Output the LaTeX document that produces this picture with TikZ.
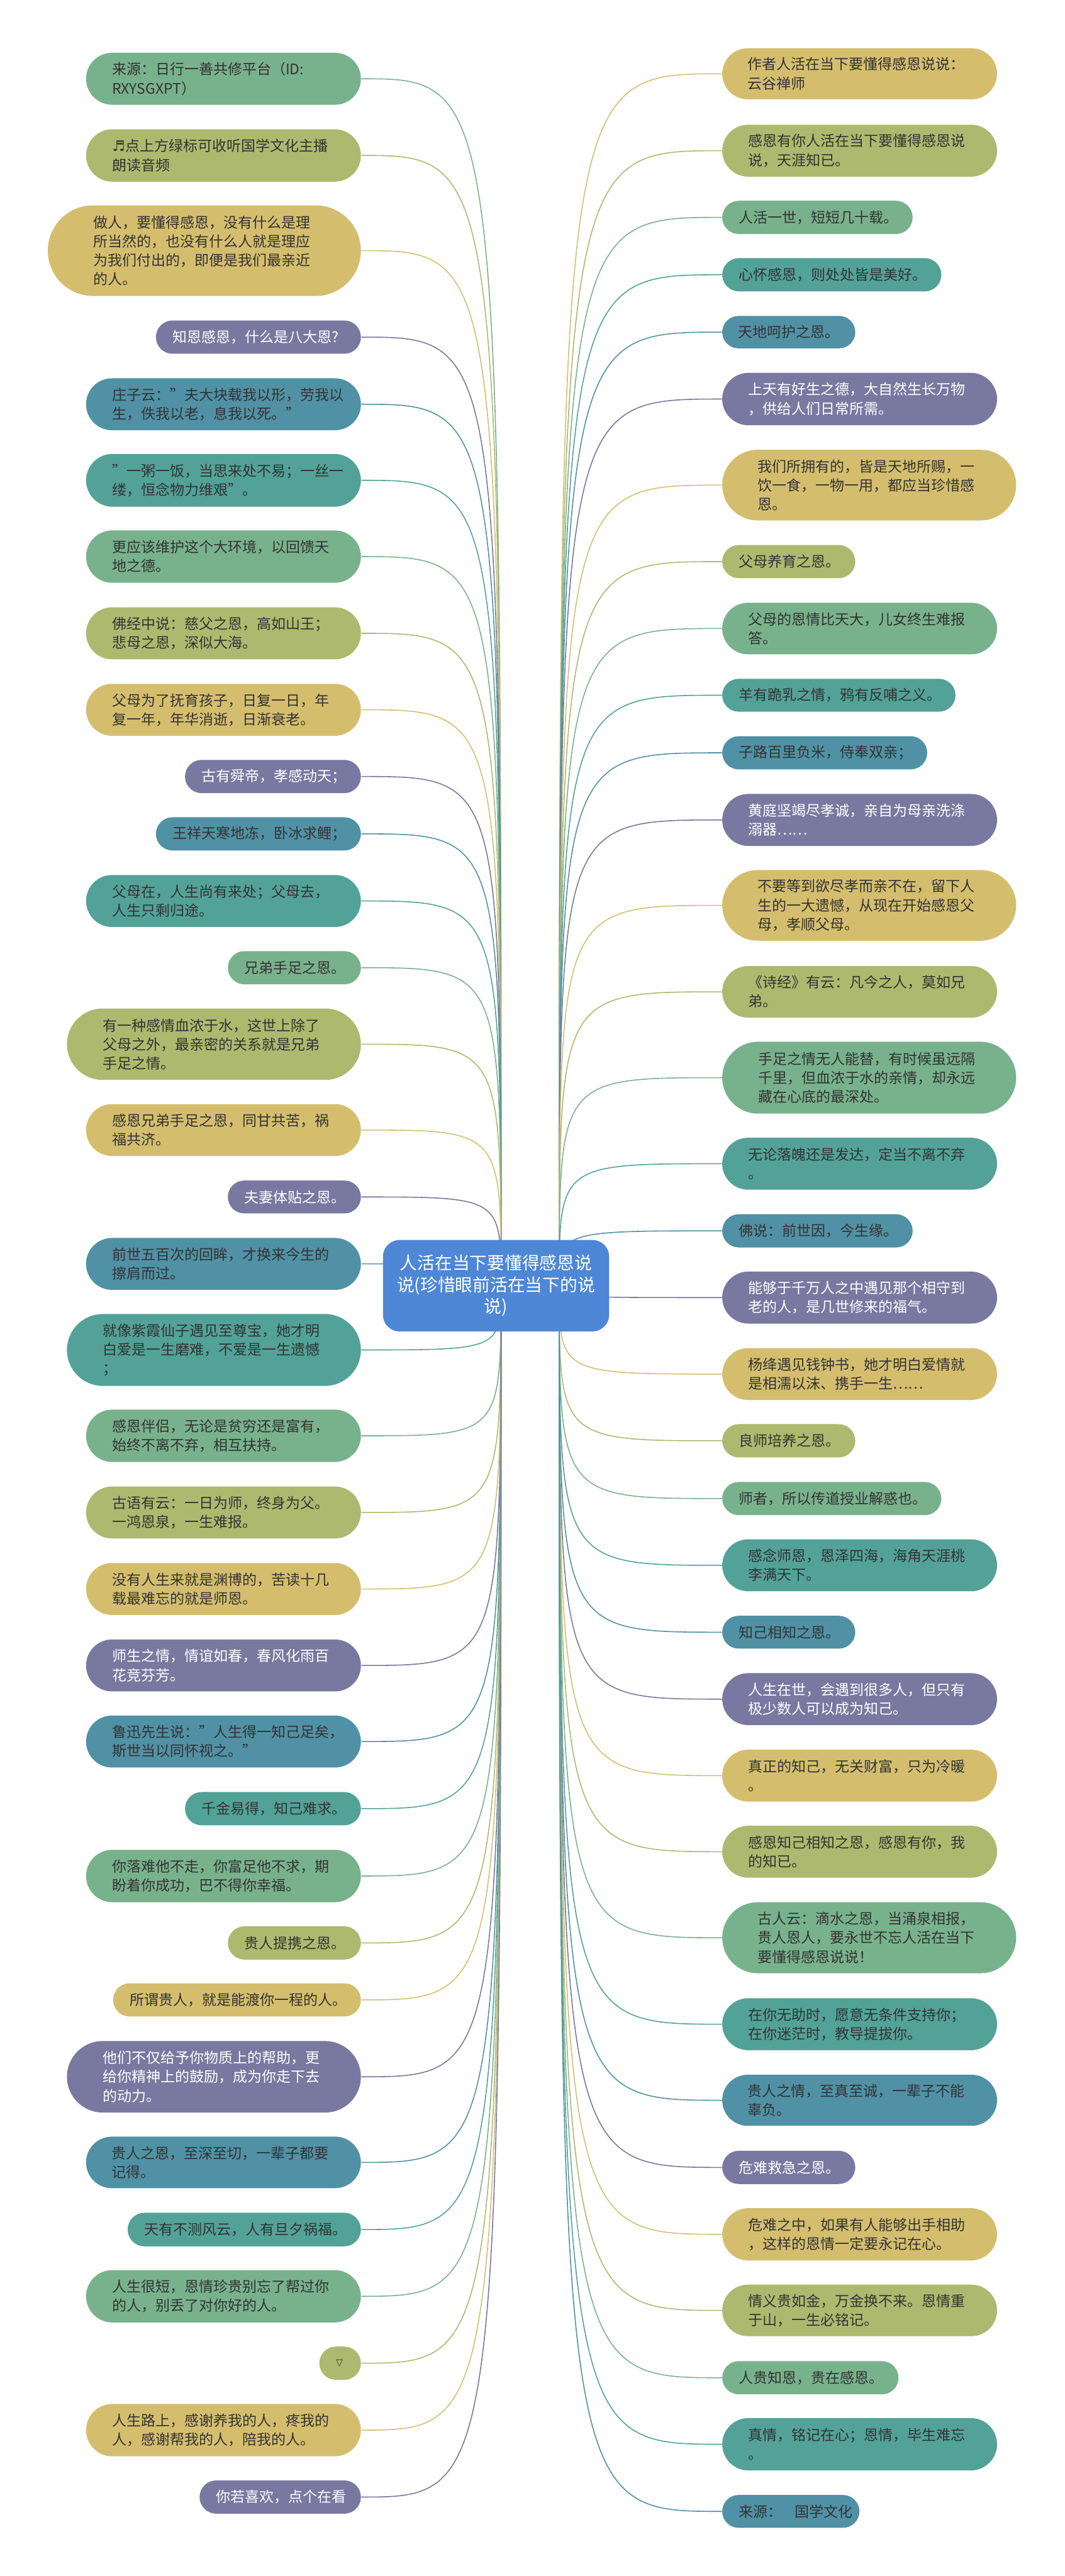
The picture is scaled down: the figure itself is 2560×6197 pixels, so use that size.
\documentclass[tikz,border=0pt]{standalone}
\usepackage{fontspec}
\setmainfont{Noto Sans CJK SC}
\newfontfamily\symfont{DejaVu Sans}
\usetikzlibrary{backgrounds}
\definecolor{cgreen}{HTML}{78B28C}
\definecolor{colive}{HTML}{ADB96E}
\definecolor{cyellow}{HTML}{D4BE6E}
\definecolor{cpurple}{HTML}{7878A0}
\definecolor{cblue}{HTML}{5091A5}
\definecolor{cteal}{HTML}{52A298}
\definecolor{croot}{HTML}{4D87D6}
\definecolor{tdark}{HTML}{333333}
\tikzset{
  leafbox/.style={inner ysep=0pt, align=left, font=\fontsize{8.7pt}{11.4pt}\selectfont},
  conn/.style={line width=0.6pt}
}
\newcommand\lf[8]{%
  \pgfmathsetmacro\lfH{(#7-#6)*0.25}%
  \pgfmathsetmacro\lfR{\lfH/2}%
  \pgfmathsetmacro\lfW{(#5-#4)*0.25-\lfH}%
  \node[leafbox, fill=#2, text=#3, minimum height=\lfH pt, inner xsep=\lfR pt, text width=\lfW pt, rounded corners=\lfR pt] (#1) at ({(#4+#5)/2},{(#6+#7)/2}) {#8};}
\begin{document}
\begin{tikzpicture}[x=0.25pt,y=-0.25pt]
\useasboundingbox (0,0) rectangle (2560,6197);
\node[fill=croot, text=white, rounded corners=10pt, minimum width=136pt, minimum height=55pt, inner sep=0pt, align=center, font=\fontsize{10.5pt}{13pt}\selectfont] (root) at (1193,3093) {人活在当下要懂得感恩说\\说(珍惜眼前活在当下的说\\说)};
\coordinate (sl) at (1205,3093);
\coordinate (sr) at (1345,3093);
% left
\lf{L1}{cgreen}{tdark}{207}{868}{127}{252}{来源：日行一善共修平台（ID:\\RXYSGXPT）}
\lf{L2}{colive}{tdark}{207}{868}{311}{437}{{\symfont ♬}点上方绿标可收听国学文化主播\\朗读音频}
\lf{L3}{cyellow}{tdark}{115}{868}{494}{712}{做人，要懂得感恩，没有什么是理\\所当然的，也没有什么人就是理应\\为我们付出的，即便是我们最亲近\\的人。}
\lf{L4}{cpurple}{white}{375}{868}{771}{851}{知恩感恩，什么是八大恩?}
\lf{L5}{cblue}{tdark}{207}{868}{910}{1035}{庄子云："夫大块载我以形，劳我以\\生，佚我以老，息我以死。"}
\lf{L6}{cteal}{tdark}{207}{868}{1092}{1219}{"一粥一饭，当思来处不易；一丝一\\缕，恒念物力维艰"。}
\lf{L7}{cgreen}{tdark}{207}{868}{1276}{1402}{更应该维护这个大环境，以回馈天\\地之德。}
\lf{L8}{colive}{tdark}{207}{868}{1461}{1586}{佛经中说：慈父之恩，高如山王；\\悲母之恩，深似大海。}
\lf{L9}{cyellow}{tdark}{207}{868}{1645}{1770}{父母为了抚育孩子，日复一日，年\\复一年，年华消逝，日渐衰老。}
\lf{L10}{cpurple}{white}{445}{868}{1828}{1908}{古有舜帝，孝感动天；}
\lf{L11}{cblue}{tdark}{375}{868}{1966}{2046}{王祥天寒地冻，卧冰求鲤；}
\lf{L12}{cteal}{tdark}{207}{868}{2105}{2230}{父母在，人生尚有来处；父母去，\\人生只剩归途。}
\lf{L13}{cgreen}{tdark}{548}{868}{2288}{2368}{兄弟手足之恩。}
\lf{L14}{colive}{tdark}{161}{868}{2426}{2598}{有一种感情血浓于水，这世上除了\\父母之外，最亲密的关系就是兄弟\\手足之情。}
\lf{L15}{cyellow}{tdark}{207}{868}{2656}{2781}{感恩兄弟手足之恩，同甘共苦，祸\\福共济。}
\lf{L16}{cpurple}{white}{548}{868}{2840}{2919}{夫妻体贴之恩。}
\lf{L17}{cblue}{tdark}{207}{868}{2978}{3103}{前世五百次的回眸，才换来今生的\\擦肩而过。}
\lf{L18}{cteal}{tdark}{161}{868}{3161}{3334}{就像紫霞仙子遇见至尊宝，她才明\\白爱是一生磨难，不爱是一生遗憾\\；}
\lf{L19}{cgreen}{tdark}{207}{868}{3391}{3517}{感恩伴侣，无论是贫穷还是富有，\\始终不离不弃，相互扶持。}
\lf{L20}{colive}{tdark}{207}{868}{3576}{3701}{古语有云：一日为师，终身为父。\\一鸿恩泉，一生难报。}
\lf{L21}{cyellow}{tdark}{207}{868}{3760}{3885}{没有人生来就是渊博的，苦读十几\\载最难忘的就是师恩。}
\lf{L22}{cpurple}{white}{207}{868}{3944}{4069}{师生之情，情谊如春，春风化雨百\\花竞芬芳。}
\lf{L23}{cblue}{tdark}{207}{868}{4127}{4252}{鲁迅先生说："人生得一知己足矣，\\斯世当以同怀视之。"}
\lf{L24}{cteal}{tdark}{445}{868}{4311}{4391}{千金易得，知己难求。}
\lf{L25}{cgreen}{tdark}{207}{868}{4450}{4576}{你落难他不走，你富足他不求，期\\盼着你成功，巴不得你幸福。}
\lf{L26}{colive}{tdark}{548}{868}{4634}{4714}{贵人提携之恩。}
\lf{L27}{cyellow}{tdark}{272}{868}{4771}{4851}{所谓贵人，就是能渡你一程的人。}
\lf{L28}{cpurple}{white}{161}{868}{4910}{5082}{他们不仅给予你物质上的帮助，更\\给你精神上的鼓励，成为你走下去\\的动力。}
\lf{L29}{cblue}{tdark}{207}{868}{5140}{5264}{贵人之恩，至深至切，一辈子都要\\记得。}
\lf{L30}{cteal}{tdark}{307}{868}{5323}{5404}{天有不测风云，人有旦夕祸福。}
\lf{L31}{cgreen}{tdark}{207}{868}{5461}{5587}{人生很短，恩情珍贵别忘了帮过你\\的人，别丢了对你好的人。}
\lf{L32}{colive}{tdark}{768}{868}{5645}{5725}{{\symfont\fontsize{5.5pt}{6pt}\selectfont ▽}}
\lf{L33}{cyellow}{tdark}{207}{868}{5783}{5909}{人生路上，感谢养我的人，疼我的\\人，感谢帮我的人，陪我的人。}
\lf{L34}{cpurple}{white}{480}{868}{5967}{6047}{你若喜欢，点个在看}
% right
\lf{R1}{cyellow}{tdark}{1737}{2398}{116}{239}{作者人活在当下要懂得感恩说说：\\云谷禅师}
\lf{R2}{colive}{tdark}{1737}{2398}{300}{425}{感恩有你人活在当下要懂得感恩说\\说，天涯知已。}
\lf{R3}{cgreen}{tdark}{1737}{2195}{483}{563}{人活一世，短短几十载。}
\lf{R4}{cteal}{tdark}{1737}{2264}{621}{701}{心怀感恩，则处处皆是美好。}
\lf{R5}{cblue}{tdark}{1737}{2057}{760}{838}{天地呵护之恩。}
\lf{R6}{cpurple}{white}{1737}{2398}{897}{1023}{上天有好生之德，大自然生长万物\\，供给人们日常所需。}
\lf{R7}{cyellow}{tdark}{1737}{2444}{1082}{1252}{我们所拥有的，皆是天地所赐，一\\饮一食，一物一用，都应当珍惜感\\恩。}
\lf{R8}{colive}{tdark}{1737}{2057}{1311}{1391}{父母养育之恩。}
\lf{R9}{cgreen}{tdark}{1737}{2398}{1450}{1574}{父母的恩情比天大，儿女终生难报\\答。}
\lf{R10}{cteal}{tdark}{1737}{2298}{1633}{1712}{羊有跪乳之情，鸦有反哺之义。}
\lf{R11}{cblue}{tdark}{1737}{2230}{1771}{1851}{子路百里负米，侍奉双亲；}
\lf{R12}{cpurple}{white}{1737}{2398}{1910}{2035}{黄庭坚竭尽孝诚，亲自为母亲洗涤\\溺器……}
\lf{R13}{cyellow}{tdark}{1737}{2444}{2093}{2263}{不要等到欲尽孝而亲不在，留下人\\生的一大遗憾，从现在开始感恩父\\母，孝顺父母。}
\lf{R14}{colive}{tdark}{1737}{2398}{2324}{2448}{《诗经》有云：凡今之人，莫如兄\\弟。}
\lf{R15}{cgreen}{tdark}{1737}{2444}{2506}{2679}{手足之情无人能替，有时候虽远隔\\千里，但血浓于水的亲情，却永远\\藏在心底的最深处。}
\lf{R16}{cteal}{tdark}{1737}{2398}{2737}{2862}{无论落魄还是发达，定当不离不弃\\。}
\lf{R17}{cblue}{tdark}{1737}{2195}{2921}{3001}{佛说：前世因，今生缘。}
\lf{R18}{cpurple}{white}{1737}{2398}{3059}{3184}{能够于千万人之中遇见那个相守到\\老的人，是几世修来的福气。}
\lf{R19}{cyellow}{tdark}{1737}{2398}{3243}{3368}{杨绛遇见钱钟书，她才明白爱情就\\是相濡以沫、携手一生……}
\lf{R20}{colive}{tdark}{1737}{2057}{3426}{3506}{良师培养之恩。}
\lf{R21}{cgreen}{tdark}{1737}{2264}{3565}{3645}{师者，所以传道授业解惑也。}
\lf{R22}{cteal}{tdark}{1737}{2398}{3703}{3828}{感念师恩，恩泽四海，海角天涯桃\\李满天下。}
\lf{R23}{cblue}{tdark}{1737}{2057}{3887}{3966}{知己相知之恩。}
\lf{R24}{cpurple}{white}{1737}{2398}{4025}{4150}{人生在世，会遇到很多人，但只有\\极少数人可以成为知己。}
\lf{R25}{cyellow}{tdark}{1737}{2398}{4209}{4334}{真正的知己，无关财富，只为冷暖\\。}
\lf{R26}{colive}{tdark}{1737}{2398}{4392}{4517}{感恩知己相知之恩，感恩有你，我\\的知已。}
\lf{R27}{cgreen}{tdark}{1737}{2444}{4576}{4747}{古人云：滴水之恩，当涌泉相报，\\贵人恩人，要永世不忘人活在当下\\要懂得感恩说说！}
\lf{R28}{cteal}{tdark}{1737}{2398}{4807}{4932}{在你无助时，愿意无条件支持你；\\在你迷茫时，教导提拔你。}
\lf{R29}{cblue}{tdark}{1737}{2398}{4991}{5114}{贵人之情，至真至诚，一辈子不能\\辜负。}
\lf{R30}{cpurple}{white}{1737}{2057}{5174}{5254}{危难救急之恩。}
\lf{R31}{cyellow}{tdark}{1737}{2398}{5312}{5438}{危难之中，如果有人能够出手相助\\，这样的恩情一定要永记在心。}
\lf{R32}{colive}{tdark}{1737}{2398}{5496}{5620}{情义贵如金，万金换不来。恩情重\\于山，一生必铭记。}
\lf{R33}{cgreen}{tdark}{1737}{2161}{5680}{5760}{人贵知恩，贵在感恩。}
\lf{R34}{cteal}{tdark}{1737}{2398}{5817}{5943}{真情，铭记在心；恩情，毕生难忘\\。}
\lf{R35}{cblue}{tdark}{1737}{2067}{6002}{6081}{\mbox{来源：\hspace{0.9em}国学文化}}
% connectors
\begin{scope}[on background layer]
\foreach \n/\c in {L1/cgreen,L2/colive,L3/cyellow,L4/cpurple,L5/cblue,L6/cteal,L7/cgreen,L8/colive,L9/cyellow,L10/cpurple,L11/cblue,L12/cteal,L13/cgreen,L14/colive,L15/cyellow,L16/cpurple,L17/cblue,L18/cteal,L19/cgreen,L20/colive,L21/cyellow,L22/cpurple,L23/cblue,L24/cteal,L25/cgreen,L26/colive,L27/cyellow,L28/cpurple,L29/cblue,L30/cteal,L31/cgreen,L32/colive,L33/cyellow,L34/cpurple}
  \draw[conn,\c] (sl) .. controls (sl |- \n.east) .. (\n.east);
\foreach \n/\c in {R1/cyellow,R2/colive,R3/cgreen,R4/cteal,R5/cblue,R6/cpurple,R7/cyellow,R8/colive,R9/cgreen,R10/cteal,R11/cblue,R12/cpurple,R13/cyellow,R14/colive,R15/cgreen,R16/cteal,R17/cblue,R18/cpurple,R19/cyellow,R20/colive,R21/cgreen,R22/cteal,R23/cblue,R24/cpurple,R25/cyellow,R26/colive,R27/cgreen,R28/cteal,R29/cblue,R30/cpurple,R31/cyellow,R32/colive,R33/cgreen,R34/cteal,R35/cblue}
  \draw[conn,\c] (sr) .. controls (sr |- \n.west) .. (\n.west);
\end{scope}
\end{tikzpicture}
\end{document}
